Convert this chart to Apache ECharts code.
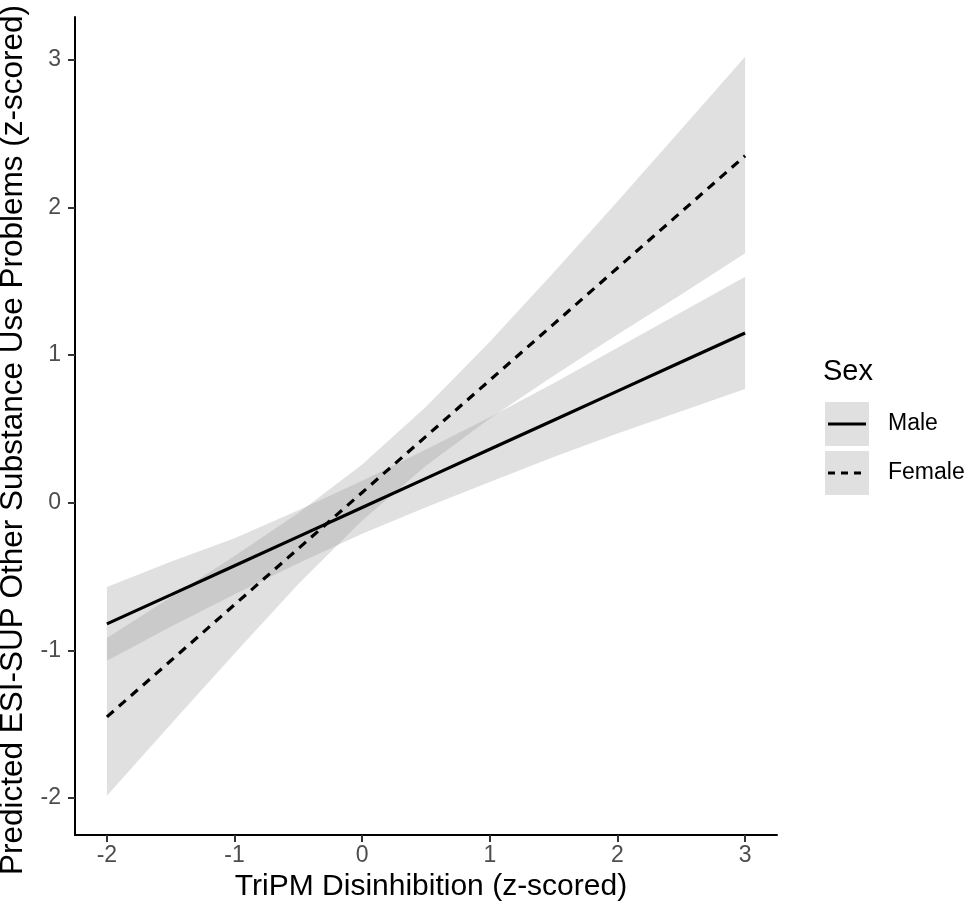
<!DOCTYPE html>
<html>
<head>
<meta charset="utf-8">
<script src="https://cdn.jsdelivr.net/npm/echarts@6/dist/echarts.min.js"></script>
<style>html,body{margin:0;padding:0;background:#fff}#c{width:968px;height:911px}</style>
</head>
<body>
<div id="c"></div>
<script>
// ---- data ----
const xTicks = [-2, -1, 0, 1, 2, 3];
const yTicks = [-2, -1, 0, 1, 2, 3];
const xs = [-2, -1.5, -1, -0.5, 0, 0.5, 1, 1.5, 2, 2.5, 3];
const maleFit   = [-0.82, -0.624, -0.426, -0.229, -0.032, 0.165, 0.362, 0.559, 0.756, 0.953, 1.15];
const maleUpper = [-0.57, -0.40, -0.24, -0.05, 0.15, 0.36, 0.58, 0.81, 1.05, 1.29, 1.53];
const maleLower = [-1.07, -0.84, -0.62, -0.41, -0.21, -0.03, 0.14, 0.31, 0.47, 0.62, 0.77];
const femaleFit   = [-1.45, -1.07, -0.69, -0.31, 0.07, 0.45, 0.83, 1.21, 1.59, 1.97, 2.35];
const femaleUpper = [-0.915, -0.64, -0.36, -0.07, 0.26, 0.65, 1.09, 1.56, 2.04, 2.53, 3.02];
const femaleLower = [-1.985, -1.50, -1.02, -0.55, -0.12, 0.25, 0.57, 0.86, 1.14, 1.41, 1.69];
const groups = ['Male', 'Female'];
const xTitle = 'TriPM Disinhibition (z-scored)';
const yTitle = 'Predicted ESI-SUP Other Substance Use Problems (z-scored)';
const legendTitle = 'Sex';

// ---- styling ----
const FONT = '"Liberation Sans", Arial, sans-serif';
const bandFill = 'rgba(153,153,153,0.3)';

function bandSeries(name, lower, upper) {
  return {
    type: 'custom',
    name: name + ' band',
    silent: true,
    clip: true,
    z: 1,
    data: xs.map((x, i) => [x, lower[i], upper[i]]),
    encode: { x: 0, y: [1, 2] },
    renderItem: function (params, api) {
      if (params.dataIndex !== 0) return null;
      const pts = [];
      for (let i = 0; i < xs.length; i++) pts.push(api.coord([xs[i], upper[i]]));
      for (let i = xs.length - 1; i >= 0; i--) pts.push(api.coord([xs[i], lower[i]]));
      return { type: 'polygon', shape: { points: pts }, style: { fill: bandFill, stroke: null } };
    }
  };
}

function lineSeries(name, fit, dash) {
  return {
    type: 'line',
    name: name,
    data: xs.map((x, i) => [x, fit[i]]),
    showSymbol: false,
    silent: true,
    z: 3,
    lineStyle: { color: '#000', width: 3.2, type: dash ? [9, 7] : 'solid', cap: 'butt' }
  };
}

const chart = echarts.init(document.getElementById('c'), null, { renderer: 'canvas' });
const axisCommon = {
  type: 'value',
  splitLine: { show: false },
  axisLine: { show: true, onZero: false, lineStyle: { color: '#000', width: 2 } },
  axisTick: { show: true, length: 7, lineStyle: { color: '#333', width: 2 } },
  nameLocation: 'middle'
};
chart.setOption({
  animation: false,
  backgroundColor: '#fff',
  grid: { left: 75, top: 17, width: 702, height: 818, containLabel: false, outerBoundsMode: 'none' },
  xAxis: Object.assign({}, axisCommon, {
    min: -2.25, max: 3.25,
    name: xTitle, nameGap: 37,
    nameTextStyle: { fontFamily: FONT, fontSize: 30, color: '#000', padding: [0, 0, 0, 10] },
    axisTick: Object.assign({}, axisCommon.axisTick, { customValues: xTicks }),
    axisLabel: { customValues: xTicks, margin: 9, fontFamily: FONT, fontSize: 23, color: '#4D4D4D' }
  }),
  yAxis: Object.assign({}, axisCommon, {
    min: -2.25, max: 3.29,
    name: yTitle, nameGap: 40,
    nameTextStyle: { fontFamily: FONT, fontSize: 31.5, color: '#000', padding: [0, 28, 0, 0] },
    axisTick: Object.assign({}, axisCommon.axisTick, { customValues: yTicks }),
    axisLabel: { customValues: yTicks, margin: 14, fontFamily: FONT, fontSize: 23, color: '#4D4D4D' }
  }),
  series: [
    bandSeries(groups[0], maleLower, maleUpper),
    bandSeries(groups[1], femaleLower, femaleUpper),
    lineSeries(groups[0], maleFit, false),
    lineSeries(groups[1], femaleFit, true)
  ],
  graphic: [
    { type: 'text', left: 823, top: 357, style: { text: legendTitle, font: '29px ' + FONT, fill: '#000' } },
    { type: 'rect', shape: { x: 825, y: 402, width: 44, height: 44 }, style: { fill: bandFill } },
    { type: 'line', shape: { x1: 828, y1: 424, x2: 866, y2: 424 }, style: { stroke: '#000', lineWidth: 3.2 } },
    { type: 'text', left: 888, top: 412, style: { text: groups[0], font: '23px ' + FONT, fill: '#000' } },
    { type: 'rect', shape: { x: 825, y: 451, width: 44, height: 44 }, style: { fill: bandFill } },
    { type: 'line', shape: { x1: 828, y1: 473, x2: 866, y2: 473 }, style: { stroke: '#000', lineWidth: 3.2, lineDash: [7, 6] } },
    { type: 'text', left: 888, top: 461, style: { text: groups[1], font: '23px ' + FONT, fill: '#000' } }
  ]
});
</script>
</body>
</html>
